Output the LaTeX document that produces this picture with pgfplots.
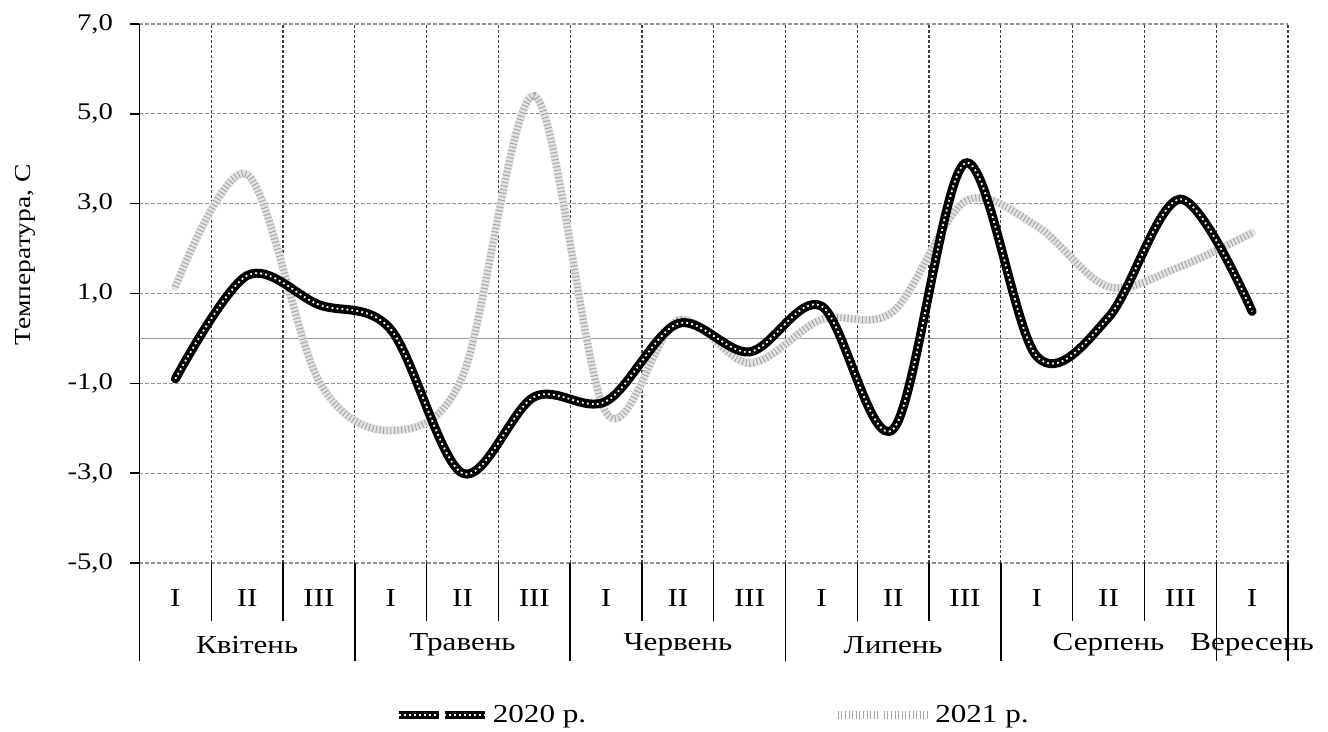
\documentclass[border=0pt]{standalone}
\usepackage{fontspec}
\setmainfont{Liberation Serif}[FakeStretch=1.2]
\usepackage{pgfplots}
\pgfplotsset{compat=1.18}
\usepackage{pgfplotstable}

\pgfplotstableread{
x y
0.5 -0.90
1.5 1.40
2.5 0.75
3.5 0.20
4.5 -3.00
5.5 -1.30
6.5 -1.40
7.5 0.33
8.5 -0.30
9.5 0.72
10.5 -2.02
11.5 3.90
12.5 -0.40
13.5 0.47
14.5 3.10
15.5 0.60
}\dataA

\pgfplotstableread{
x y
0.5 1.15
1.5 3.65
2.5 -0.95
3.5 -2.05
4.5 -0.85
5.5 5.40
6.5 -1.65
7.5 0.40
8.5 -0.55
9.5 0.42
10.5 0.60
11.5 3.05
12.5 2.50
13.5 1.15
14.5 1.60
15.5 2.35
}\dataB

\tikzset{
  baseA/.style={black, line width=4.5bp, smooth, tension=0.55, line cap=round},
  overA/.style={white, line width=0.9bp, smooth, tension=0.55, dash pattern=on 0.9bp off 1.6bp},
  baseB/.style={gray!22, line width=4bp, smooth, tension=0.55, line cap=round},
  overB/.style={gray!70, line width=3.6bp, smooth, tension=0.55, dash pattern=on 0.5bp off 1.3bp},
}

\begin{document}
\begin{tikzpicture}
\useasboundingbox (-69.75bp,-84.5bp) rectangle (594.25bp,281.5bp);
\begin{axis}[
  at={(0,0)}, anchor=south west,
  scale only axis,
  width=574.25bp, height=269.5bp,
  xmin=0, xmax=16, ymin=-5, ymax=7,
  clip=false,
  axis x line*=bottom, axis y line*=left,
  x axis line style={draw=none},
  y axis line style={black, line width=0.7bp},
  xtick={0.5,1.5,...,15.5},
  xticklabels={I,II,III,I,II,III,I,II,III,I,II,III,I,II,III,I},
  major x tick style={draw=none},
  xticklabel style={font=\fontsize{13}{14}\selectfont, anchor=center, yshift=-13bp},
  ytick={-5,-3,...,7},
  tick align=outside,
  major tick length=4.75bp,
  major y tick style={black, line width=0.7bp},
  yticklabel style={font=\fontsize{12}{13}\selectfont, xshift=-5bp},
  /pgf/number format/.cd, fixed, fixed zerofill, precision=1, use comma, assume math mode=true,
  /pgfplots/.cd,
  ymajorgrids=true,
  major grid style={gray!85, line width=0.6bp, dash pattern=on 2bp off 1bp},
  extra x ticks={1,2,...,16},
  extra x tick labels={},
  extra x tick style={grid=major, major tick length=0pt, major grid style={black!75, line width=0.6bp, dash pattern=on 1.5bp off 1bp}},
  extra y ticks={0},
  extra y tick labels={},
  extra y tick style={grid=major, major tick length=0pt, major grid style={gray!80, line width=0.8bp, solid}},
  legend columns=2,
  legend style={draw=none, fill=none, at={(rel axis cs:0.5,0)}, anchor=center, yshift=-76bp,
    font=\fontsize{13}{14}\selectfont, inner sep=0pt,
    /tikz/every even column/.append style={column sep=122bp}},
  legend cell align=left,
]
\addplot[baseB, forget plot] table {\dataB};
\addplot[overB, forget plot] table {\dataB};
\addplot[baseA, forget plot] table {\dataA};
\addplot[overA, forget plot] table {\dataA};

\addlegendimage{legend image code/.code={
  \draw[black, line width=4bp] (0bp,0bp) -- (20bp,0bp);
  \draw[black, line width=4bp] (23bp,0bp) -- (43bp,0bp);
  \draw[white, line width=0.9bp, dash pattern=on 0.9bp off 1.6bp] (0bp,0bp) -- (43bp,0bp);
}}
\addlegendentry{2020 р.}
\addlegendimage{legend image code/.code={
  \draw[overB] (0bp,0bp) -- (20bp,0bp);
  \draw[overB] (23bp,0bp) -- (45bp,0bp);
}}
\addlegendentry{2021 р.}

\pgfplotsinvokeforeach{1,2,4,5,7,8,10,11,13,14}{
  \draw[black, line width=0.7bp] (axis cs:#1,-5) -- ([yshift=-29bp]axis cs:#1,-5);
}
\pgfplotsinvokeforeach{0,3,6,9,12,15,16}{
  \draw[black, line width=0.7bp] (axis cs:#1,-5) -- ([yshift=-49bp]axis cs:#1,-5);
}
\node[font=\fontsize{13}{14}\selectfont] at ([yshift=-41bp]axis cs:1.5,-5) {Квітень};
\node[font=\fontsize{13}{14}\selectfont] at ([yshift=-41bp]axis cs:4.5,-5) {Травень};
\node[font=\fontsize{13}{14}\selectfont] at ([yshift=-41bp]axis cs:7.5,-5) {Червень};
\node[font=\fontsize{13}{14}\selectfont] at ([yshift=-41bp]axis cs:10.5,-5) {Липень};
\node[font=\fontsize{13}{14}\selectfont] at ([yshift=-41bp]axis cs:13.5,-5) {Серпень};
\node[font=\fontsize{13}{14}\selectfont] at ([yshift=-41bp]axis cs:15.5,-5) {Вересень};
\node[rotate=90, font=\fontsize{11.5}{12}\selectfont] at ([xshift=-57.25bp]rel axis cs:0,0.5714) {Температура, С};
\end{axis}
\end{tikzpicture}
\end{document}
